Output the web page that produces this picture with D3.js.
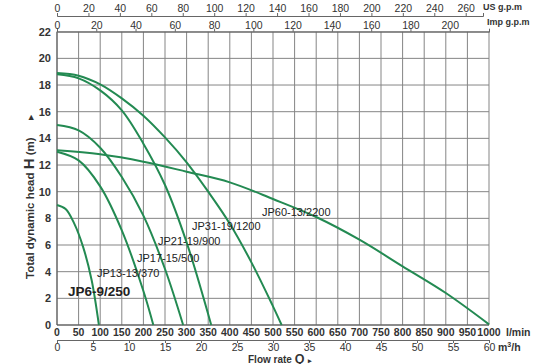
<!DOCTYPE html>
<html lang="en">
<head>
<meta charset="UTF-8">
<title>Pump curves</title>
<style>
  body { margin: 0; background: #fff; }
  text { font-family: "Liberation Sans", Arial, sans-serif; fill: #222; }
</style>
</head>
<body>
<script src="https://cdn.jsdelivr.net/npm/d3@7"></script>
<script>

// curve data, [flow l/min, head m]
var jp6  = [[0, 9], [20, 8.7], [40, 7.6], [60, 5.9], [80, 3.4], [97, 0]];
var jp13 = [[0, 13], [50, 12.35], [100, 10.4], [150, 7.1], [200, 2.55], [223, 0]];
var jp17 = [[0, 15], [50, 14.6], [100, 13.3], [150, 11.1], [200, 8.2], [250, 4.2], [292, 0]];
var jp21 = [[0, 18.8], [50, 18.5], [100, 17.6], [150, 16.1], [200, 13.6], [250, 10.5], [300, 6.2], [357, 0]];
var jp31 = [[0, 18.9], [50, 18.7], [100, 18.05], [150, 17.0], [200, 15.7], [250, 14.07], [300, 12.2],
            [350, 10.0], [400, 7.6], [450, 4.7], [500, 1.4], [520, 0]];
var jp60 = [[0, 13.1], [100, 12.8], [200, 12.25], [300, 11.5], [400, 10.7], [500, 9.45], [600, 8.1],
            [700, 6.4], [800, 4.4], [900, 2.4], [1000, 0.05]];

var models = ["JP6-9/250", "JP13-13/370", "JP17-15/500", "JP21-19/900", "JP31-19/1200", "JP60-13/2200"];

var lminTicks = [0, 50, 100, 150, 200, 250, 300, 350, 400, 450, 500, 550, 600, 650, 700, 750, 800, 850, 900, 950, 1000];
var m3hTicks = [0, 5, 10, 15, 20, 25, 30, 35, 40, 45, 50, 55, 60];
var usTicks = [0, 20, 40, 60, 80, 100, 120, 140, 160, 180, 200, 220, 240, 260];
var impTicks = [0, 20, 40, 60, 80, 100, 120, 140, 160, 180, 200];
var headTicks = [0, 2, 4, 6, 8, 10, 12, 14, 16, 18, 20, 22];

var width = 539, height = 364,
    plotLeft = 57, plotRight = 489, plotTop = 31.7, plotBottom = 325;

var svg = d3.select("body").append("svg")
    .attr("width", width)
    .attr("height", height);

var x = d3.scaleLinear().domain([0, 1000]).range([plotLeft, plotRight]);
var y = d3.scaleLinear().domain([0, 22]).range([plotBottom, plotTop]);
var xm3 = d3.scaleLinear().domain([0, 60]).range([plotLeft, plotRight]);
var xus = d3.scaleLinear().domain([0, 271]).range([plotLeft, 483]);
var ximp = d3.scaleLinear().domain([0, 220]).range([plotLeft, plotRight]);

// grid
var grid = svg.append("g").attr("stroke", "#858585").attr("stroke-width", 1);
grid.selectAll("line.v")
    .data(lminTicks)
    .enter().append("line")
    .attr("x1", function(d) { return x(d); })
    .attr("x2", function(d) { return x(d); })
    .attr("y1", plotTop)
    .attr("y2", plotBottom);
grid.selectAll("line.h")
    .data(headTicks)
    .enter().append("line")
    .attr("x1", plotLeft)
    .attr("x2", plotRight)
    .attr("y1", function(d) { return y(d); })
    .attr("y2", function(d) { return y(d); });

// left border + bottom line a bit darker
svg.append("line").attr("x1", plotLeft).attr("x2", plotLeft).attr("y1", plotTop).attr("y2", plotBottom)
    .attr("stroke", "#555");
svg.append("line").attr("x1", plotLeft).attr("x2", plotRight).attr("y1", plotBottom).attr("y2", plotBottom)
    .attr("stroke", "#555");

// y tick labels
svg.append("g").selectAll("text")
    .data(headTicks)
    .enter().append("text")
    .attr("x", 51)
    .attr("y", function(d) { return y(d); })
    .attr("dy", "0.35em")
    .attr("text-anchor", "end")
    .attr("font-size", "11px")
    .attr("font-weight", "bold")
    .style("fill", "#333")
    .text(function(d) { return d; });

// l/min labels under plot
svg.append("g").selectAll("text")
    .data(lminTicks)
    .enter().append("text")
    .attr("x", function(d) { return x(d); })
    .attr("y", 332)
    .attr("dy", "0.35em")
    .attr("text-anchor", "middle")
    .attr("font-size", "10.5px")
    .attr("font-weight", "bold")
    .style("fill", "#333")
    .text(function(d) { return d; });

svg.append("text").attr("x", 506).attr("y", 332).attr("dy", "0.35em")
    .attr("font-size", "10.5px").attr("font-weight", "bold").style("fill", "#333")
    .text("l/min");

// axis styling shared by the extra scales
function styleAxis(g) {
    g.select(".domain").attr("stroke", "#666");
    g.selectAll(".tick line").attr("stroke", "#666");
    g.selectAll(".tick text")
        .attr("font-size", "10.5px")
        .attr("font-family", "Liberation Sans, Arial, sans-serif")
        .style("fill", "#333");
}

// m3/h axis
svg.append("g")
    .attr("transform", "translate(0,340)")
    .call(d3.axisBottom(xm3).tickValues(m3hTicks).tickSizeOuter(0).tickSize(3).tickPadding(1))
    .call(styleAxis);

svg.append("text").attr("x", 498).attr("y", 347).attr("dy", "0.35em")
    .attr("font-size", "10.5px").attr("font-weight", "bold").style("fill", "#333")
    .html("m<tspan dy='-4' font-size='7px'>3</tspan><tspan dy='4'>/h</tspan>");

var flow = svg.append("text").attr("x", 248).attr("y", 362.5)
    .attr("font-size", "10px").attr("font-weight", "bold").style("fill", "#333");
flow.append("tspan").text("Flow rate ");
flow.append("tspan").attr("font-size", "12.5px").text("Q");
flow.append("tspan").attr("font-size", "7px").attr("dx", 4).text("\u25B8");

// top axes
svg.append("g")
    .attr("transform", "translate(0,16)")
    .call(d3.axisTop(xus).tickValues(usTicks).tickSizeOuter(0).tickSize(3).tickPadding(1))
    .call(styleAxis);
svg.append("text").attr("x", 483).attr("y", 7).attr("dy", "0.35em")
    .attr("font-size", "9px").attr("font-weight", "bold").style("fill", "#333")
    .text("US g.p.m");

svg.append("g")
    .attr("transform", "translate(0," + plotTop + ")")
    .call(d3.axisTop(ximp).tickValues(impTicks).tickSizeOuter(0).tickSize(3).tickPadding(0))
    .call(styleAxis);
svg.append("text").attr("x", 487).attr("y", 22).attr("dy", "0.35em")
    .attr("font-size", "9px").attr("font-weight", "bold").style("fill", "#333")
    .text("Imp g.p.m");

// y title
var ytitle = svg.append("text")
    .attr("transform", "translate(34,279) rotate(-90)")
    .attr("font-size", "11.5px")
    .attr("font-weight", "bold")
    .style("fill", "#333");
ytitle.append("tspan").text("Total dynamic head  ");
ytitle.append("tspan").attr("font-size", "15px").text("H");
ytitle.append("tspan").text(" (m)");
svg.append("text")
    .attr("transform", "translate(33,117) rotate(-90)")
    .attr("font-size", "7px")
    .attr("text-anchor", "middle")
    .style("fill", "#333")
    .text("\u25B6");

// curves
var line = d3.line()
    .x(function(d) { return x(d[0]); })
    .y(function(d) { return y(d[1]); })
    .curve(d3.curveCatmullRom.alpha(0.5));

svg.append("g").selectAll("path")
    .data([jp6, jp13, jp17, jp21, jp31, jp60])
    .enter().append("path")
    .attr("d", line)
    .attr("fill", "none")
    .attr("stroke", "#238a52")
    .attr("stroke-width", 2);

// model labels
var labelPos = [[68, 291, 13.5, "bold"], [97, 273, 11, "normal"], [137, 258, 11, "normal"],
                [158, 241, 11, "normal"], [192, 226, 11, "normal"], [262, 212, 11, "normal"]];
svg.append("g").selectAll("text")
    .data(models)
    .enter().append("text")
    .attr("x", function(d, i) { return labelPos[i][0]; })
    .attr("y", function(d, i) { return labelPos[i][1]; })
    .attr("dy", "0.35em")
    .attr("font-size", function(d, i) { return labelPos[i][2] + "px"; })
    .attr("font-weight", function(d, i) { return labelPos[i][3]; })
    .style("fill", "#222")
    .text(function(d) { return d; });

</script>
</body>
</html>
